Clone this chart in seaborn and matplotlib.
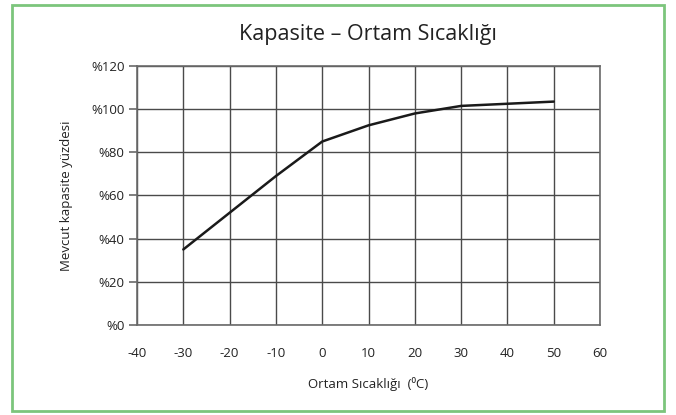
import matplotlib
matplotlib.use("Agg")
import matplotlib.pyplot as plt
import seaborn as sns
import pandas as pd
from matplotlib.patches import Rectangle

# values
temps = [-30, -20, -10, 0, 10, 20, 30, 40, 50]
capacity = [35, 52, 69, 85, 92.5, 98, 101.5, 102.5, 103.5]
x_ticks = [-40, -30, -20, -10, 0, 10, 20, 30, 40, 50, 60]
y_ticks = [0, 20, 40, 60, 80, 100, 120]

df = pd.DataFrame({"temp": temps, "cap": capacity})

sns.set_theme(style="white")
plt.rcParams['font.family'] = ['Open Sans', 'DejaVu Sans']
plt.rcParams['axes.unicode_minus'] = False

fig = plt.figure(figsize=(6.76, 4.15), dpi=100)
ax = fig.add_axes([0.2027, 0.2169, 0.6849, 0.6241])

sns.lineplot(data=df, x="temp", y="cap", ax=ax, color="#1a1a1a", linewidth=1.8)

ax.set_xlim(-40, 60)
ax.set_ylim(0, 120)
ax.set_xticks(x_ticks)
ax.set_yticks(y_ticks)
ax.set_yticklabels([f"%{v}" for v in y_ticks])
ax.grid(True, color="#4a4a4a", linewidth=1)
for s in ax.spines.values():
    s.set_color("#6a6a6a")
    s.set_linewidth(1.2)
ax.tick_params(axis="y", which="major", left=True, length=6, width=1.2,
               color="#6a6a6a", labelsize=9.5, pad=3, labelcolor="#222222")
ax.tick_params(axis="x", bottom=False, labelsize=9.5, pad=10, labelcolor="#222222")

ax.set_xlabel("Ortam Sıcaklığı  (⁰C)", fontsize=9.5, labelpad=12, color="#222222")
ax.set_ylabel("Mevcut kapasite yüzdesi", fontsize=9.5, labelpad=13, color="#222222")

fig.text(0.544, 0.918, "Kapasite – Ortam Sıcaklığı", ha="center", va="center",
         fontsize=15.5, color="#222222")

# green frame around the whole figure
fig.patches.append(Rectangle((12 / 676, 4 / 415), 652 / 676, 406 / 415,
                             transform=fig.transFigure, fill=False,
                             edgecolor="#7cc57c", linewidth=2))

fig.savefig("out.png", dpi=100)
